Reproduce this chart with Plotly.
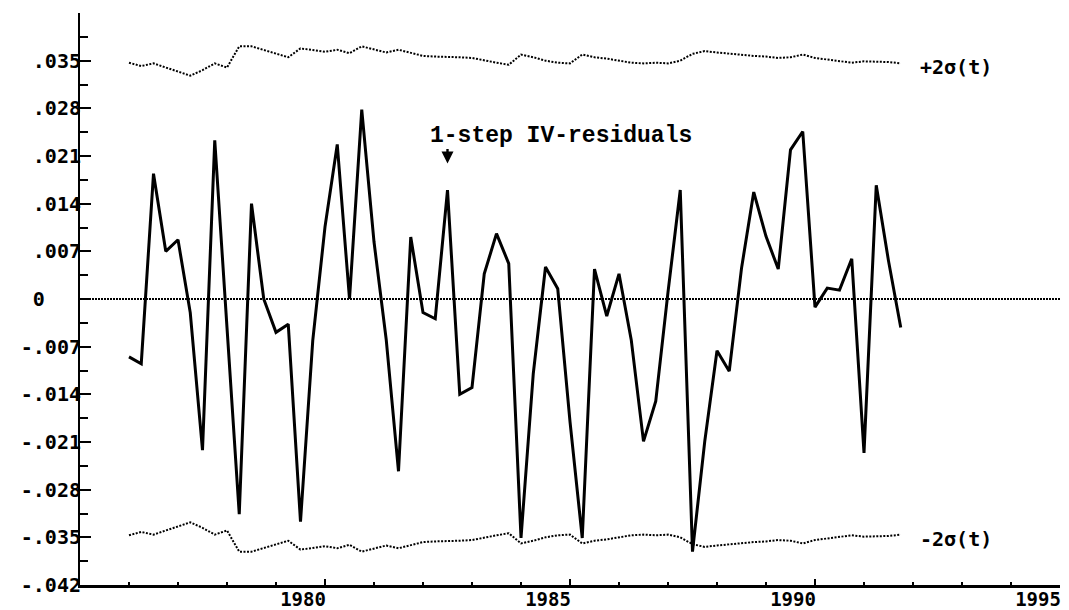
import plotly.graph_objects as go

# ---------------- data (quarterly, 1976Q1 .. 1991Q4) ----------------
start_year = 1976
quarters_per_year = 4

residuals = [
    -0.0085, -0.0095, 0.0184, 0.0070, 0.0087, -0.0020, -0.0222, 0.0233,
    -0.0042, -0.0316, 0.0140, 0.0000, -0.0049, -0.0037, -0.0327, -0.0061,
    0.0106, 0.0227, 0.0000, 0.0278, 0.0084, -0.0060, -0.0253, 0.0091,
    -0.0020, -0.0029, 0.0160, -0.0140, -0.0130, 0.0037, 0.0096, 0.0052,
    -0.0351, -0.0110, 0.0047, 0.0015, -0.0180, -0.0351, 0.0044, -0.0025,
    0.0037, -0.0060, -0.0209, -0.0150, 0.0010, 0.0160, -0.0371, -0.0209,
    -0.0076, -0.0106, 0.0045, 0.0157, 0.0092, 0.0044, 0.0219, 0.0246,
    -0.0012, 0.0016, 0.0013, 0.0059, -0.0226, 0.0167, 0.0056, -0.0042,
]

two_sigma = [
    0.0347, 0.0342, 0.0346, 0.0340, 0.0334, 0.0328, 0.0336, 0.0346,
    0.0340, 0.0371, 0.0371, 0.0366, 0.0361, 0.0355, 0.0368, 0.0365,
    0.0363, 0.0366, 0.0361, 0.0371, 0.0366, 0.0362, 0.0366, 0.0362,
    0.0357, 0.0356, 0.0356, 0.0355, 0.0354, 0.0350, 0.0347, 0.0344,
    0.0359, 0.0355, 0.0350, 0.0347, 0.0346, 0.0359, 0.0355, 0.0353,
    0.0350, 0.0347, 0.0346, 0.0347, 0.0346, 0.0350, 0.0360, 0.0364,
    0.0362, 0.0360, 0.0358, 0.0357, 0.0356, 0.0354, 0.0355, 0.0359,
    0.0354, 0.0352, 0.0350, 0.0347, 0.0349, 0.0349, 0.0348, 0.0346,
]

time = [start_year + k / quarters_per_year for k in range(len(residuals))]

y_tick_vals = [0.035, 0.028, 0.021, 0.014, 0.007, 0.0,
               -0.007, -0.014, -0.021, -0.028, -0.035, -0.042]
y_tick_text = [".035", ".028", ".021", ".014", ".007", "0\u00a0\u00a0\u00a0",
               "-.007", "-.014", "-.021", "-.028", "-.035", "-.042"]
y_minor_vals = [0.0385, 0.0315, 0.0245, 0.0175, 0.0105, 0.0035,
                -0.0035, -0.0105, -0.0175, -0.0245, -0.0315, -0.0385]

x_tick_vals = [1980, 1985, 1990, 1995]
x_tick_text = ["1980", "1985", "1990", "1995"]
x_minor_vals = [1976, 1977, 1978, 1979, 1981, 1982, 1983, 1984, 1986,
                1987, 1988, 1989, 1991, 1992, 1993, 1994]

x_range = [1975, 1995]
y_range = [-0.042, 0.042]

# ---------------- figure ----------------
fig = go.Figure()

dotted = dict(color="black", width=2.0, dash="2px,1.5px")

fig.add_trace(go.Scatter(x=time, y=two_sigma, mode="lines", line=dotted,
                         hoverinfo="skip"))
fig.add_trace(go.Scatter(x=time, y=[-v for v in two_sigma], mode="lines",
                         line=dotted, hoverinfo="skip"))
fig.add_trace(go.Scatter(x=time, y=residuals, mode="lines",
                         line=dict(color="black", width=3.0)))

fig.add_shape(type="line", xref="x", yref="y", x0=x_range[0], x1=x_range[1],
              y0=0, y1=0, line=dict(color="black", width=2.0, dash="2px,1px"),
              layer="below")

y_tick_font = dict(family="DejaVu Sans Mono", size=20, color="black", weight="bold")
x_tick_font = dict(family="DejaVu Sans Mono", size=19, color="black", weight="bold")

fig.update_layout(
    width=1069, height=610,
    margin=dict(l=80, r=9, t=13, b=25),
    paper_bgcolor="white", plot_bgcolor="white",
    showlegend=False,
)

fig.update_xaxes(
    range=x_range, tickmode="array", tickvals=x_tick_vals, ticktext=x_tick_text,
    ticks="inside", ticklen=6, tickwidth=2, tickcolor="black",
    showline=True, linewidth=2.5, linecolor="black", automargin=False,
    showgrid=False, zeroline=False, tickfont=x_tick_font,
    ticklabelshift=-22, ticklabelstandoff=-5,
    minor=dict(tickmode="array", tickvals=x_minor_vals, ticks="inside",
               ticklen=3, tickwidth=2, tickcolor="black", showgrid=False),
)

fig.update_yaxes(
    range=y_range, tickmode="array", tickvals=y_tick_vals, ticktext=y_tick_text,
    ticks="inside", ticklen=11, tickwidth=2, tickcolor="black",
    showline=True, linewidth=2, linecolor="black", automargin=False,
    showgrid=False, zeroline=False, tickfont=y_tick_font,
    ticklabelstandoff=-7,
    minor=dict(tickmode="array", tickvals=y_minor_vals, ticks="inside",
               ticklen=8, tickwidth=2, tickcolor="black", showgrid=False),
)

fig.add_annotation(x=1984.81, y=0.0239, xref="x", yref="y",
                   text="1-step IV-residuals", showarrow=False,
                   xanchor="center", yanchor="middle",
                   font=dict(family="Liberation Mono", size=23, color="black",
                             weight="bold"))
fig.add_annotation(x=1982.5, y=0.0199, xref="x", yref="y", text="",
                   showarrow=True, ax=0, ay=-16, arrowhead=2, arrowsize=1,
                   arrowwidth=2.4, arrowcolor="black", standoff=0)

label_font = dict(family="DejaVu Sans Mono", size=20, color="black", weight="bold")
fig.add_annotation(x=1992.1, y=0.0341, xref="x", yref="y", text="+2σ(t)",
                   showarrow=False, xanchor="left", yanchor="middle",
                   font=label_font)
fig.add_annotation(x=1992.1, y=-0.0352, xref="x", yref="y", text="-2σ(t)",
                   showarrow=False, xanchor="left", yanchor="middle",
                   font=label_font)

fig.write_html("out.html",
               config={"displayModeBar": False},
               post_script="document.body.style.margin='0';"
                           "document.body.style.overflow='hidden';")
